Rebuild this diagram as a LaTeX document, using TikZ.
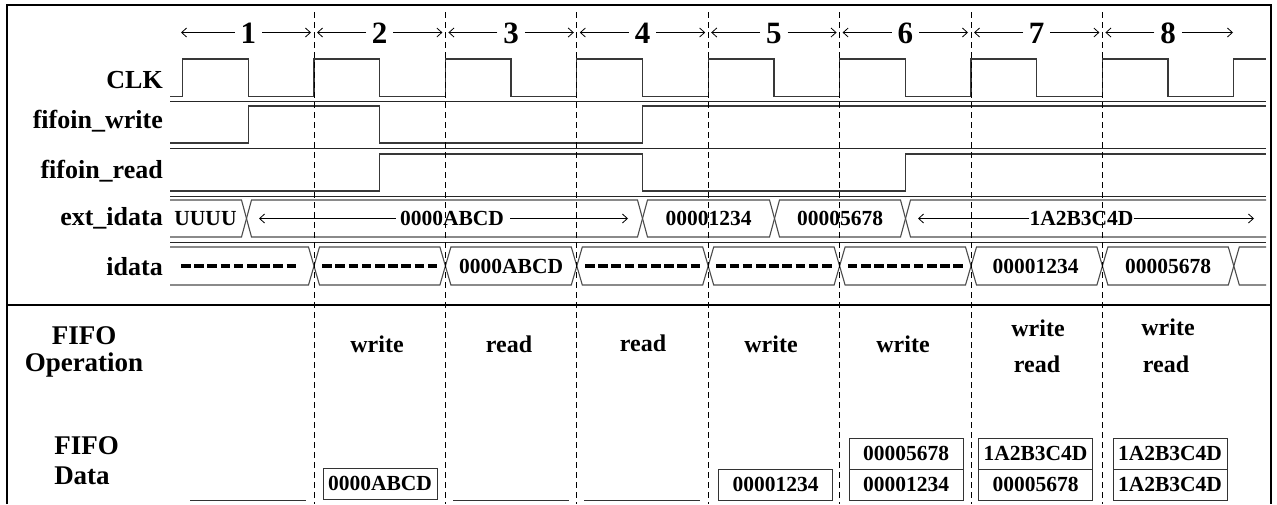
\documentclass[tikz,border=0pt]{standalone}
\usepackage{fontspec}
\setmainfont{Liberation Serif}
\usetikzlibrary{arrows.meta}
\newcommand\myfs[1]{\fontsize{#1}{#1}\selectfont\bfseries}
\newcommand\hexseg[5]{% top, bot, xL, xR, half width
  \draw[bus] (#3,{(#1+#2)/2}) -- ({#3+#5},#1) -- ({#4-#5},#1) -- (#4,{(#1+#2)/2}) -- ({#4-#5},#2) -- ({#3+#5},#2) -- cycle;}
\begin{document}
\begin{tikzpicture}[x=1pt,y=-1pt,
  sig/.style={line width=1.3pt,draw=black!78},
  sep/.style={line width=0.9pt,draw=black!85},
  frame/.style={line width=2.6pt,draw=black},
  vdash/.style={line width=1pt,draw=black,dash pattern=on 6pt off 4pt},
  bus/.style={line width=1.1pt,draw=black!70},
  lbl/.style={anchor=base east,inner sep=0pt,font=\myfs{26}},
  num/.style={inner sep=0pt,minimum width=27pt,font=\myfs{31}},
  val/.style={inner sep=0pt,font=\myfs{21.5}},
  op/.style={anchor=base,inner sep=0pt,font=\myfs{24}},
  side/.style={anchor=base,inner sep=0pt,font=\myfs{27}},
  dbox/.style={draw=black!80,line width=1pt,minimum width=114pt,minimum height=31pt,inner sep=0pt,font=\myfs{21.5}},
  arr/.style={line width=0.8pt,draw=black,-{Straight Barb[length=5pt,width=9pt]}},
  xdash/.style={line width=3.5pt,draw=black,dash pattern=on 9.6pt off 3.6pt},
  uline/.style={line width=1pt,draw=black!80},
]
\useasboundingbox (0,0) rectangle (1277,504);

% ---- cycle numbers ----
\foreach \k in {1,...,8}{
  \pgfmathsetmacro\xa{182.6+(\k-1)*131.4}
  \pgfmathsetmacro\xb{182.6+\k*131.4}
  \pgfmathsetmacro\xc{(\xa+\xb)/2}
  \pgfmathsetmacro\xl{\k==1 ? 181 : \xa+3}
  \pgfmathsetmacro\xr{\k==8 ? 1233 : \xb-3}
  \node[num] (n\k) at (\xc,33.5) {\k};
  \coordinate (nl\k) at (\xl,32.5);
  \coordinate (nr\k) at (\xr,32.5);
  \draw[arr] (nl\k -| n\k.west) -- (nl\k);
  \draw[arr] (nr\k -| n\k.east) -- (nr\k);
}

% ---- signal labels ----
\node[lbl] (lclk) at (163,88.3) {CLK};
\node[lbl] (lfw) at (163,128.3) {fifoin\_write};
\node[lbl] (lfr) at (163,178.3) {fifoin\_read};
\node[lbl] (lext) at (163,225) {ext\_idata};
\node[lbl] (lid) at (163,275) {idata};

% ---- row separators ----
\foreach \y in {101,148,196,242}{\draw[sep] (170,\y) -- (1266,\y);}

% ---- CLK ----
\draw[sig] (170,96.7) \foreach \k in {0,...,7}{
  -- ({182.6+\k*131.4},96.7) -- ({182.6+\k*131.4},59) -- ({248.3+\k*131.4},59) -- ({248.3+\k*131.4},96.7)}
  -- (1233.8,96.7) -- (1233.8,59) -- (1266,59);

% ---- fifoin_write ----
\draw[sig] (170,143) -- (248.3,143) -- (248.3,106) -- (379.7,106) -- (379.7,143)
  -- (642.5,143) -- (642.5,106) -- (1266,106);

% ---- fifoin_read ----
\draw[sig] (170,191) -- (379.7,191) -- (379.7,154) -- (642.5,154) -- (642.5,191)
  -- (905.3,191) -- (905.3,154) -- (1266,154);

% ---- ext_idata bus ----
\draw[bus] (170,200) -- (241.5,200) -- (246.5,218.5) -- (241.5,237) -- (170,237);
\hexseg{200}{237}{246.5}{642.5}{5}
\hexseg{200}{237}{642.5}{774.5}{5}
\hexseg{200}{237}{774.5}{905.5}{5}
\draw[bus] (1266,200) -- (910.5,200) -- (905.5,218.5) -- (910.5,237) -- (1266,237);

\node[val] (eu) at (205.5,218.5) {UUUU};
\node[val,inner xsep=4pt] (ea) at (452,218.5) {0000ABCD};
\coordinate (eal) at (259,218.5);
\coordinate (ear) at (628,218.5);
\draw[arr] (ea.west) -- (eal);
\draw[arr] ([xshift=2pt]ea.east) -- (ear);
\node[val] (e1) at (708.5,218.5) {00001234};
\node[val] (e5) at (840,218.5) {00005678};
\node[val] (e4) at (1081.5,218.5) {1A2B3C4D};
\coordinate (e4l) at (918,218.5);
\coordinate (e4r) at (1254,218.5);
\draw[arr] (e4.west) -- (e4l);
\draw[arr] (e4.east) -- (e4r);

% ---- idata bus ----
\draw[bus] (170,247) -- (308.5,247) -- (314,266) -- (308.5,285) -- (170,285);
\foreach \a/\b in {314/445.4,445.4/576.8,576.8/708.2,708.2/839.6,839.6/971,971/1102.4,1102.4/1233.8}{
  \hexseg{247}{285}{\a}{\b}{5.5}}
\draw[bus] (1266,247) -- (1239.3,247) -- (1233.8,266) -- (1239.3,285) -- (1266,285);

\foreach \c in {238.5,379.7,642.5,773.9,905.3}{
  \draw[xdash] ({\c-57.5},266) -- ({\c+57.7},266);}
\node[val] (i3) at (511.1,266) {0000ABCD};
\node[val] (i7) at (1035.5,266) {00001234};
\node[val] (i8) at (1168.1,266) {00005678};

% ---- lower table ----
\node[side] (sf1) at (84,344) {FIFO};
\node[side] (sop) at (84,371) {Operation};
\node[side] (sf2) at (86.7,454) {FIFO};
\node[side] (sdat) at (82,484.3) {Data};

\node[op] (o2) at (377,352.7) {write};
\node[op] (o3) at (509,352.7) {read};
\node[op] (o4) at (643,351.7) {read};
\node[op] (o5) at (771,352.7) {write};
\node[op] (o6) at (903,352.7) {write};
\node[op] (o7w) at (1038,336) {write};
\node[op] (o7r) at (1037,372.7) {read};
\node[op] (o8w) at (1168,335) {write};
\node[op] (o8r) at (1166,372.7) {read};

\node[dbox] (d2) at (380,483.5) {0000ABCD};
\node[dbox] (d5) at (775.5,484.5) {00001234};
\node[dbox] (d6a) at (906,453.5) {00005678};
\node[dbox] (d6b) at (906,484.5) {00001234};
\node[dbox] (d7a) at (1035.5,453.5) {1A2B3C4D};
\node[dbox] (d7b) at (1035.5,484.5) {00005678};
\node[dbox] (d8a) at (1170,453.5) {1A2B3C4D};
\node[dbox] (d8b) at (1170,484.5) {1A2B3C4D};

\draw[uline] (190,500) -- (306,500);
\draw[uline] (453,500) -- (569,500);
\draw[uline] (584,500) -- (700,500);

% ---- frame ----
\draw[frame] (7,504) -- (7,5) -- (1271,5) -- (1271,504);
\draw[frame] (7,305) -- (1271,305);

% ---- dashed cycle boundaries ----
\foreach \x in {314,445.4,576.8,708.2,839.6,971,1102.4}{
  \draw[vdash] (\x,12) -- (\x,504);}
\end{tikzpicture}
\end{document}
